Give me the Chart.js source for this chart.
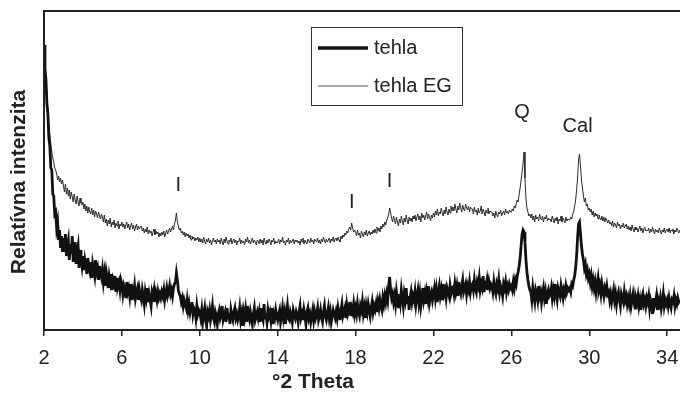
<!DOCTYPE html>
<html>
<head>
<meta charset="utf-8">
<script src="https://cdn.jsdelivr.net/npm/chart.js@4.4.1/dist/chart.umd.min.js"></script>
<style>
    body { margin: 0; background: #fff; }
    canvas { display: block; }
</style>
</head>
<body>
<canvas id="xrdChart" width="680" height="393"></canvas>
<script>
// Difraktogram - uhol od 2 stupnov, krok 0.05
const thetaStart = 2.0;
const thetaStep = 0.05;
const xTicks = [2, 6, 10, 14, 18, 22, 26, 30, 34];

// tehla (hrubá čiara), jeden riadok = 1 stupeň
const tehla = [
    285, 262, 250, 226, 216, 192, 184, 162, 160, 136, 134, 116, 118, 102, 108, 90, 100, 82, 94, 78,
    92, 78, 96, 74, 84, 90, 70, 86, 76, 94, 68, 80, 88, 66, 78, 84, 62, 80, 72, 64,
    74, 60, 70, 64, 56, 72, 62, 58, 68, 52, 66, 60, 54, 70, 58, 62, 50, 64, 56, 52,
    60, 48, 56, 44, 58, 52, 42, 54, 48, 56, 40, 50, 46, 54, 38, 52, 44, 48, 40, 50,
    46, 36, 44, 40, 32, 48, 38, 42, 34, 46, 30, 40, 36, 44, 32, 38, 42, 30, 40, 34,
    30, 40, 34, 26, 38, 32, 42, 28, 36, 30, 24, 38, 34, 40, 28, 36, 30, 38, 32, 36,
    32, 38, 34, 40, 30, 36, 42, 34, 38, 44, 36, 40, 34, 42, 46, 48, 57, 50, 40, 36,
    34, 28, 32, 24, 30, 26, 22, 30, 20, 26, 18, 24, 28, 16, 22, 20, 12, 24, 16, 20,
    18, 12, 20, 8, 16, 22, 10, 4, 18, 14, 20, 10, 16, 24, 12, 8, 18, 14, 6, 16,
    20, 12, 16, 24, 10, 14, 18, 8, 22, 12, 16, 6, 20, 14, 10, 18, 22, 12, 16, 10,
    14, 22, 10, 16, 4, 18, 12, 20, 8, 24, 14, 10, 18, 12, 6, 16, 22, 10, 14, 18,
    12, 18, 8, 22, 14, 10, 26, 12, 16, 8, 20, 14, 18, 10, 22, 6, 16, 12, 20, 14,
    10, 16, 20, 8, 14, 22, 12, 18, 6, 16, 24, 12, 10, 18, 14, 8, 20, 16, 12, 18,
    14, 8, 18, 24, 12, 16, 10, 20, 14, 6, 18, 22, 12, 16, 8, 14, 20, 10, 18, 12,
    16, 22, 10, 14, 20, 12, 8, 18, 24, 14, 10, 16, 22, 12, 18, 8, 14, 20, 16, 12,
    18, 12, 22, 16, 10, 20, 26, 14, 18, 22, 12, 24, 16, 20, 28, 14, 22, 18, 26, 16,
    22, 16, 26, 18, 14, 24, 20, 28, 16, 22, 12, 24, 18, 26, 20, 14, 22, 28, 18, 24,
    20, 26, 18, 28, 22, 30, 24, 20, 32, 26, 34, 28, 36, 30, 44, 53, 40, 32, 36, 28,
    34, 26, 38, 30, 22, 36, 28, 40, 32, 24, 36, 30, 42, 26, 34, 20, 32, 38, 28, 34,
    30, 38, 26, 34, 40, 28, 36, 24, 32, 42, 30, 36, 26, 38, 32, 44, 28, 34, 38, 30,
    36, 42, 32, 40, 28, 38, 44, 34, 40, 30, 46, 36, 40, 32, 42, 38, 34, 44, 36, 40,
    42, 36, 46, 38, 44, 34, 48, 40, 36, 44, 50, 38, 42, 46, 36, 44, 40, 48, 38, 44,
    46, 40, 50, 42, 38, 48, 44, 52, 40, 46, 42, 54, 38, 46, 44, 50, 40, 48, 42, 46,
    44, 38, 48, 40, 36, 46, 42, 50, 38, 44, 40, 34, 46, 42, 48, 38, 44, 40, 46, 42,
    44, 40, 48, 42, 50, 46, 54, 58, 64, 72, 84, 96, 100, 98, 88, 70, 58, 50, 44, 40,
    38, 30, 42, 34, 28, 40, 36, 30, 44, 34, 38, 28, 36, 42, 32, 38, 26, 36, 40, 34,
    36, 42, 32, 40, 34, 46, 36, 30, 42, 38, 34, 44, 38, 32, 40, 36, 44, 38, 42, 40,
    42, 38, 46, 44, 50, 54, 62, 74, 92, 106, 108, 96, 84, 76, 70, 62, 66, 56, 60, 52,
    56, 48, 54, 44, 50, 42, 48, 38, 46, 52, 40, 44, 36, 46, 40, 34, 42, 38, 44, 36,
    38, 30, 36, 28, 34, 40, 30, 36, 26, 34, 38, 30, 24, 36, 32, 28, 38, 30, 34, 26,
    32, 26, 34, 24, 30, 36, 28, 22, 32, 28, 34, 24, 30, 20, 32, 36, 26, 30, 24, 32,
    28, 34, 22, 30, 26, 16, 32, 24, 28, 34, 20, 30, 26, 32, 22, 28, 36, 24, 30, 26,
    30, 24, 32, 26, 22, 30, 28, 34, 24, 30, 26, 32, 28, 30
];

// tehla EG (tenká čiara)
const tehlaEG = [
    285, 266, 252, 236, 220, 206, 196, 186, 178, 172, 168, 162, 160, 156, 150, 154, 148, 152, 146, 150,
    144, 138, 146, 136, 142, 134, 140, 131, 138, 133, 128, 136, 130, 126, 134, 128, 124, 132, 127, 125,
    128, 121, 126, 119, 124, 117, 123, 118, 116, 122, 115, 120, 113, 119, 116, 112, 118, 114, 111, 116,
    113, 108, 115, 107, 111, 104, 110, 106, 112, 103, 108, 105, 110, 102, 107, 104, 109, 101, 106, 104,
    108, 103, 106, 101, 105, 108, 102, 106, 100, 104, 107, 101, 105, 99, 103, 106, 100, 104, 101, 103,
    104, 99, 102, 97, 101, 98, 103, 96, 100, 97, 99, 94, 98, 101, 95, 99, 96, 98, 93, 97,
    94, 98, 95, 99, 93, 97, 100, 96, 99, 102, 98, 101, 104, 100, 106, 110, 117, 108, 104, 100,
    102, 97, 99, 95, 98, 93, 97, 94, 96, 92, 95, 90, 94, 91, 93, 89, 92, 90, 93, 88,
    92, 88, 91, 87, 93, 89, 86, 91, 88, 92, 87, 90, 85, 89, 92, 88, 90, 86, 91, 88,
    90, 86, 92, 88, 85, 91, 87, 93, 89, 86, 90, 88, 92, 86, 89, 91, 87, 90, 85, 89,
    88, 92, 86, 90, 87, 89, 85, 91, 88, 93, 87, 90, 86, 89, 92, 87, 90, 88, 85, 90,
    89, 86, 91, 87, 90, 85, 92, 88, 86, 90, 87, 91, 89, 85, 90, 88, 92, 86, 89, 87,
    88, 91, 86, 90, 88, 93, 87, 89, 85, 90, 88, 92, 86, 90, 87, 89, 91, 86, 90, 88,
    90, 87, 89, 85, 91, 88, 92, 86, 90, 88, 86, 91, 89, 87, 92, 88, 90, 86, 91, 89,
    88, 92, 87, 90, 86, 91, 88, 93, 89, 87, 91, 88, 90, 92, 87, 91, 89, 93, 88, 91,
    92, 89, 93, 90, 88, 94, 91, 95, 93, 97, 95, 99, 97, 101, 103, 100, 107, 102, 98, 100,
    98, 94, 100, 95, 97, 92, 99, 96, 93, 98, 95, 100, 94, 97, 99, 95, 98, 96, 100, 97,
    101, 97, 103, 99, 102, 98, 104, 101, 106, 103, 108, 105, 110, 112, 116, 122, 117, 112, 108, 114,
    110, 106, 113, 108, 104, 111, 107, 114, 109, 105, 112, 108, 115, 110, 106, 113, 109, 112, 108, 114,
    111, 115, 109, 113, 116, 110, 114, 108, 117, 112, 115, 110, 114, 118, 111, 116, 113, 109, 115, 112,
    117, 113, 119, 115, 121, 114, 118, 116, 122, 117, 114, 120, 116, 123, 118, 115, 121, 117, 124, 119,
    123, 119, 126, 121, 117, 124, 120, 127, 122, 118, 125, 121, 119, 126, 122, 120, 124, 118, 123, 121,
    121, 116, 123, 118, 120, 115, 122, 117, 119, 124, 116, 121, 118, 114, 120, 117, 122, 116, 119, 118,
    118, 114, 117, 112, 119, 115, 113, 118, 116, 120, 114, 117, 119, 115, 121, 117, 119, 116, 120, 118,
    118, 121, 119, 124, 122, 126, 130, 128, 136, 142, 150, 158, 166, 178, 152, 132, 122, 118, 114, 116,
    112, 116, 110, 114, 108, 115, 111, 113, 109, 116, 112, 110, 114, 108, 113, 111, 115, 109, 112, 110,
    111, 108, 114, 110, 107, 112, 109, 113, 106, 111, 109, 114, 108, 112, 110, 107, 113, 109, 111, 110,
    110, 113, 111, 116, 118, 124, 130, 140, 152, 170, 176, 164, 150, 142, 134, 128, 132, 124, 126, 120,
    122, 118, 121, 115, 119, 113, 117, 114, 116, 111, 115, 112, 110, 114, 109, 113, 108, 112, 110, 107,
    110, 106, 108, 104, 109, 103, 107, 105, 102, 108, 104, 106, 101, 105, 103, 107, 102, 104, 106, 101,
    104, 100, 103, 99, 105, 101, 98, 103, 100, 102, 98, 101, 104, 99, 102, 97, 101, 103, 99, 100,
    99, 102, 97, 101, 98, 103, 99, 96, 101, 98, 100, 97, 102, 99, 96, 100, 98, 102, 97, 100,
    101, 98, 102, 97, 100, 99, 101, 96, 100, 98, 102, 99, 97, 100
];

// Označenia píkov: [uhol, intenzita, text]
const peakLabels = [
    [8.9, 145, 'I'],
    [17.8, 128, 'I'],
    [19.75, 149, 'I'],
    [26.55, 218, 'Q'],
    [29.4, 204, 'Cal']
];

const fontName = "'Liberation Sans', Arial, sans-serif";

function toPoints(values) {
    return values.map(function(v, i) {
        return { x: thetaStart + i * thetaStep, y: v };
    });
}

// Rámik, popisy osí, legenda a označenia píkov
const extrasPlugin = {
    id: 'extras',
    afterDraw: function(chart) {
        const ctx = chart.ctx;
        const area = chart.chartArea;
        const xs = chart.scales.x;
        const ys = chart.scales.y;
        ctx.save();

        ctx.strokeStyle = '#222';
        ctx.lineWidth = 2;
        ctx.beginPath();
        ctx.moveTo(area.left, area.bottom);
        ctx.lineTo(area.left, area.top);
        ctx.lineTo(area.right, area.top);
        ctx.stroke();

        ctx.fillStyle = '#222';
        ctx.font = 'bold 21px ' + fontName;
        ctx.textAlign = 'center';
        ctx.textBaseline = 'middle';
        ctx.fillText('°2 Theta', 313, 382);

        ctx.save();
        ctx.translate(19, 182);
        ctx.rotate(-Math.PI / 2);
        ctx.fillText('Relatívna intenzita', 0, 0);
        ctx.restore();

        ctx.font = '20px ' + fontName;
        peakLabels.forEach(function(p) {
            ctx.fillText(p[2], xs.getPixelForValue(p[0]), ys.getPixelForValue(p[1]));
        });

        // legenda
        ctx.fillStyle = '#fff';
        ctx.fillRect(311, 27, 151, 78);
        ctx.strokeStyle = '#333';
        ctx.lineWidth = 1;
        ctx.strokeRect(311.5, 27.5, 151, 78);

        ctx.strokeStyle = '#111';
        ctx.lineWidth = 3.5;
        ctx.beginPath();
        ctx.moveTo(318, 48);
        ctx.lineTo(368, 48);
        ctx.stroke();
        ctx.strokeStyle = '#555';
        ctx.lineWidth = 1;
        ctx.beginPath();
        ctx.moveTo(318, 86);
        ctx.lineTo(368, 86);
        ctx.stroke();

        ctx.fillStyle = '#222';
        ctx.textAlign = 'left';
        ctx.fillText('tehla', 374, 48);
        ctx.fillText('tehla EG', 374, 86);

        ctx.restore();
    }
};

const chart = new Chart(document.getElementById('xrdChart'), {
    type: 'line',
    data: {
        datasets: [{
            label: 'tehla',
            data: toPoints(tehla),
            borderColor: '#111',
            borderWidth: 2.8,
            pointRadius: 0,
            tension: 0
        }, {
            label: 'tehla EG',
            data: toPoints(tehlaEG),
            borderColor: '#2a2a2a',
            borderWidth: 1,
            pointRadius: 0,
            tension: 0
        }]
    },
    options: {
        responsive: false,
        animation: false,
        devicePixelRatio: 1,
        layout: { padding: { left: 44, top: 11, right: 0, bottom: 0 } },
        plugins: {
            legend: { display: false },
            tooltip: { enabled: false }
        },
        scales: {
            x: {
                type: 'linear',
                min: 2,
                max: 34.66,
                afterBuildTicks: function(scale) {
                    scale.ticks = xTicks.map(function(v) { return { value: v }; });
                },
                afterFit: function(scale) {
                    scale.height = 63;
                    scale.paddingRight = 0;
                },
                grid: {
                    display: true,
                    drawOnChartArea: false,
                    drawTicks: true,
                    tickLength: 6,
                    color: '#222',
                    lineWidth: 1.5
                },
                border: { display: true, color: '#222', width: 2 },
                ticks: {
                    autoSkip: false,
                    maxRotation: 0,
                    padding: 10,
                    color: '#222',
                    font: { size: 20, family: fontName }
                }
            },
            y: {
                display: false,
                min: 0,
                max: 319
            }
        }
    },
    plugins: [extrasPlugin]
});
</script>
</body>
</html>
